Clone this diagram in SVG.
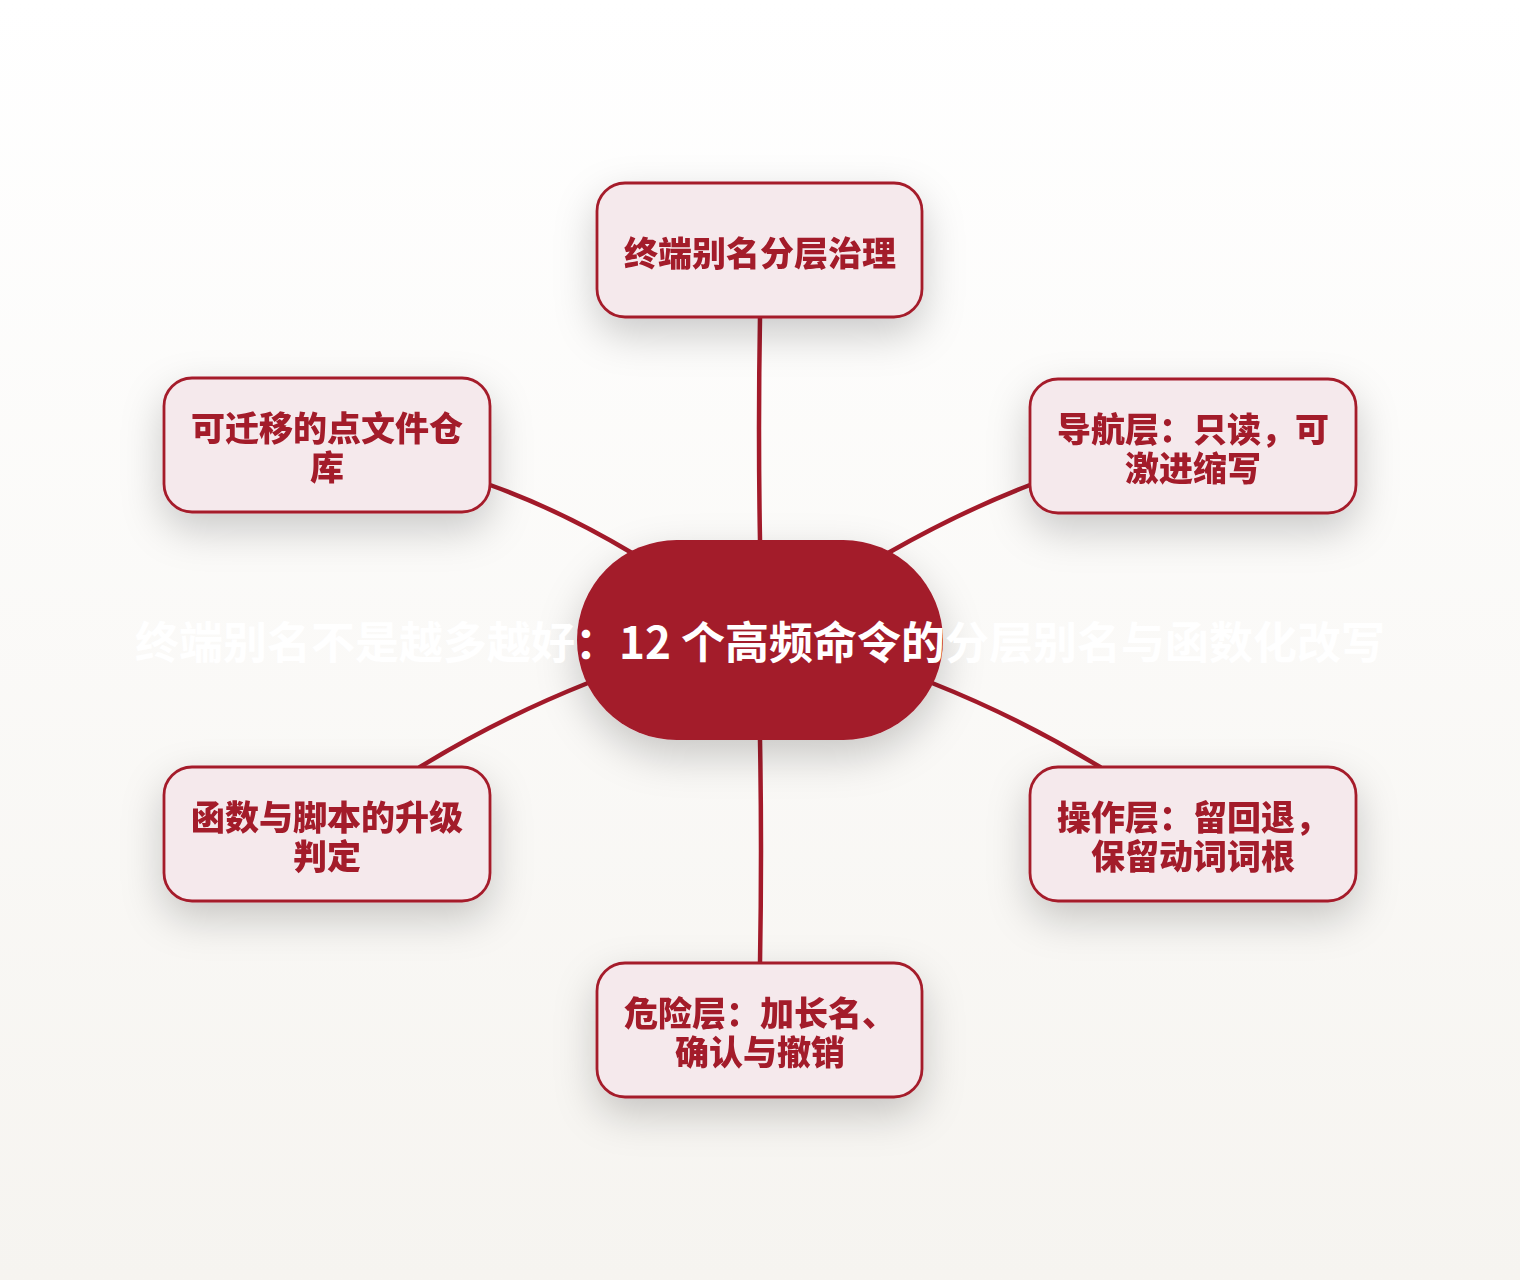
<svg xmlns="http://www.w3.org/2000/svg" width="1520" height="1280" viewBox="0 0 1520 1280">
  <defs>
    <linearGradient id="bg" x1="0" y1="0" x2="0" y2="1">
      <stop offset="0" stop-color="#ffffff"/>
      <stop offset="1" stop-color="#f6f4f0"/>
    </linearGradient>
    <filter id="shadow" x="-40%" y="-40%" width="180%" height="200%">
      <feDropShadow dx="0" dy="16" stdDeviation="20" flood-color="#000000" flood-opacity="0.2"/>
    </filter>
    <style>
      .node rect { fill: #f5e9ec; stroke: #a51c2c; stroke-width: 2.8; }
      .node text { fill: #a31a2a; font-family: "Noto Sans CJK SC", "Noto Sans", sans-serif; font-weight: 900; font-size: 34px; text-anchor: middle; }
      .edge { fill: none; stroke: #a31a2a; stroke-width: 4.5; stroke-linecap: round; }
      .title { fill: #ffffff; font-family: "Noto Sans CJK SC", "Noto Sans", sans-serif; font-weight: 700; font-size: 44px; text-anchor: middle; }
    </style>
  </defs>
  <rect x="0" y="0" width="1520" height="1280" fill="url(#bg)"/>

  <g id="connectors">
    <path class="edge" d="M760,317 Q758,430 760,540"/>
    <path class="edge" d="M490,485 Q560,510 632,553"/>
    <path class="edge" d="M1030,485 Q960,512 888,553"/>
    <path class="edge" d="M420,767 Q500,718 588,683"/>
    <path class="edge" d="M1100,767 Q1020,718 932,683"/>
    <path class="edge" d="M760,740 Q762,850 760,963"/>
  </g>

  <g id="center" filter="url(#shadow)">
    <rect x="577" y="540" width="366" height="200" rx="100" ry="100" fill="#a31a2a"/>
  </g>
  <text class="title" x="760" y="659">终端别名不是越多越好：12 个高频命令的分层别名与函数化改写</text>

  <g id="node-top" class="node" filter="url(#shadow)">
    <rect x="597" y="183" width="325" height="134" rx="28" ry="28"/>
    <text x="760" y="266">终端别名分层治理</text>
  </g>

  <g id="node-left-top" class="node" filter="url(#shadow)">
    <rect x="164" y="378" width="326" height="134" rx="28" ry="28"/>
    <text x="327" y="441">可迁移的点文件仓</text>
    <text x="327" y="480">库</text>
  </g>

  <g id="node-right-top" class="node" filter="url(#shadow)">
    <rect x="1030" y="379" width="326" height="134" rx="28" ry="28"/>
    <text x="1193" y="442">导航层：只读，可</text>
    <text x="1193" y="481">激进缩写</text>
  </g>

  <g id="node-left-bottom" class="node" filter="url(#shadow)">
    <rect x="164" y="767" width="326" height="134" rx="28" ry="28"/>
    <text x="327" y="830">函数与脚本的升级</text>
    <text x="327" y="869">判定</text>
  </g>

  <g id="node-right-bottom" class="node" filter="url(#shadow)">
    <rect x="1030" y="767" width="326" height="134" rx="28" ry="28"/>
    <text x="1193" y="830">操作层：留回退，</text>
    <text x="1193" y="869">保留动词词根</text>
  </g>

  <g id="node-bottom" class="node" filter="url(#shadow)">
    <rect x="597" y="963" width="325" height="134" rx="28" ry="28"/>
    <text x="760" y="1026">危险层：加长名、</text>
    <text x="760" y="1065">确认与撤销</text>
  </g>
</svg>
